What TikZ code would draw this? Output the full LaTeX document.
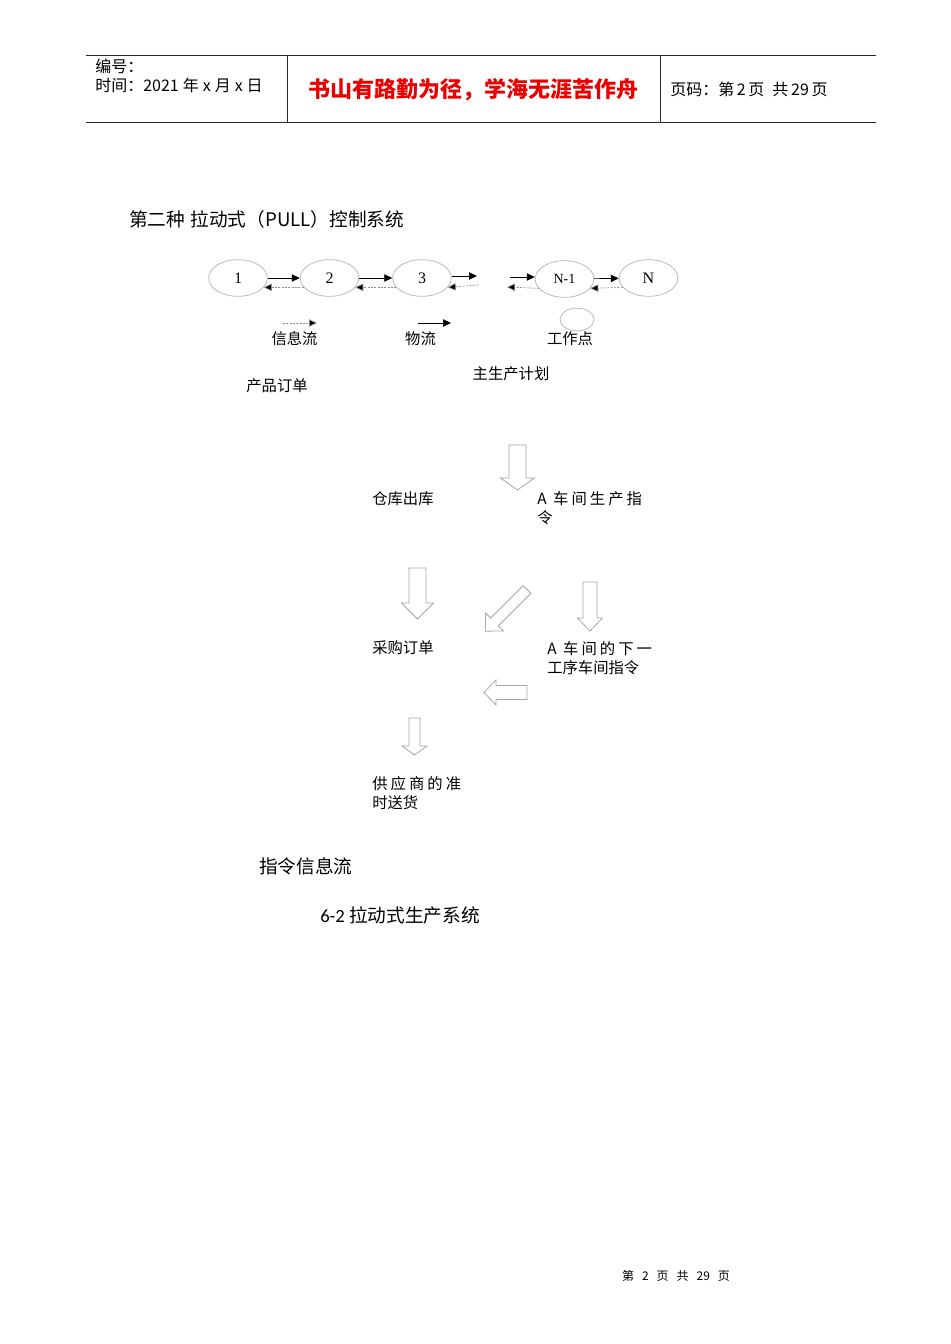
\documentclass[tikz,border=0pt]{standalone}
\usepackage{fontspec}
\setmainfont{Liberation Serif}
\newfontfamily\cjk{Noto Sans CJK SC}
\newfontfamily\cjkwide[LetterSpace=20]{Noto Sans CJK SC}
\newfontfamily\capfont{Carlito}
\usetikzlibrary{arrows.meta}
\usetikzlibrary{shapes.geometric}

\definecolor{rimgray}{RGB}{185,185,185}
\definecolor{arrowgray}{RGB}{165,165,165}
\definecolor{mottored}{RGB}{235,0,0}

\tikzset{
	rule/.style={line width=0.7pt, draw=black!85},
	station/.style={ellipse, draw=rimgray, line width=0.6pt, minimum width=44pt, minimum height=27.5pt, inner sep=0pt, font=\fontsize{12}{12}\selectfont},
	goods/.style={line width=0.5pt, -{Triangle[length=6pt,width=5.5pt]}},
	info/.style={line width=0.5pt, draw=black!45, dash pattern=on 1.5pt off 1pt, -{Triangle[length=6pt,width=5.5pt,fill=black]}},
	label/.style={inner sep=0pt, font=\cjk\fontsize{11.5}{14.5}\selectfont},
	head/.style={inner sep=0pt, anchor=west, font=\cjk\fontsize{12}{14}\selectfont},
	big/.style={inner sep=0pt, anchor=west, font=\cjk\fontsize{14}{16}\selectfont},
	blockline/.style={draw=arrowgray, line width=0.6pt, line join=miter}
}

% hollow block arrow: x, y of tail, turn, half shaft, half head, shaft length, total length
\newcommand{\fatarrow}[7]{%
	\draw[blockline, shift={(#1,#2)}, rotate=#3] (-#4,0) -- (#4,0) -- (#4,#6) -- (#5,#6) -- (0,#7) -- (-#5,#6) -- (-#4,#6) -- cycle;}

\begin{document}
\begin{tikzpicture}[x=0.75pt, y=-0.75pt]
	\useasboundingbox (0,0) rectangle (950,1344);

	% Page header
	\draw[rule] (86,55) -- (876,55);
	\draw[rule] (86,122) -- (876,122);
	\draw[rule] (287,55) -- (287,122);
	\draw[rule] (660,55) -- (660,122);
	\node[head] (serial) at (95,66) {编号：};
	\node[head] (date)   at (95,85) {时间：2021\hspace{3pt}年\hspace{3pt}x\hspace{3pt}月\hspace{3pt}x\hspace{3pt}日};
	\node[inner sep=0pt, text=mottored, font=\cjk\bfseries\fontsize{16.5}{18}\selectfont] (motto) at (473,90) {书山有路勤为径，学海无涯苦作舟};
	\node[head] (pageno) at (670,89) {页码：第\hspace{2pt}2\hspace{2pt}页\hspace{6pt}共\hspace{2pt}29\hspace{2pt}页};

	% Title
	\node[big] (heading) at (129,219) {第二种\hspace{4pt}拉动式（PULL）控制系统};

	% Chain of work points
	\node[station] (s1)  at (238,278)   {1};
	\node[station] (s2)  at (329.5,278) {2};
	\node[station] (s3)  at (422,278)   {3};
	\node[station, font=\fontsize{10.5}{10.5}\selectfont] (sn1) at (564.5,279) {N-1};
	\node[station] (sn)  at (648.5,278) {N};

	% Open ends of the chain
	\coordinate (gapA) at (477,276);
	\coordinate (gapB) at (478,285);
	\coordinate (gapC) at (510,277);
	\coordinate (gapD) at (507,287);

	% Material and information between stations
	\draw[goods] (s1) -- (s2);
	\draw[info]  (s2.200) -- (s1.-20);
	\draw[goods] (s2) -- (s3);
	\draw[info]  (s3.200) -- (s2.-20);
	\draw[goods] (s3.east |- gapA) -- (gapA);
	\draw[info]  (gapB) -- (s3.-20);
	\draw[goods] (gapC) -- (sn1.west |- gapC);
	\draw[info]  (sn1.200) -- (gapD);
	\draw[goods] (sn1) -- (sn);
	\draw[info]  (sn.200) -- (sn1.-20);

	% Legend
	\coordinate (infoA)  at (283,323);
	\coordinate (infoB)  at (317,323);
	\coordinate (goodsA) at (418,323);
	\coordinate (goodsB) at (451,323);
	\draw[info]  (infoA) -- (infoB);
	\draw[goods] (goodsA) -- (goodsB);
	\node[ellipse, draw=rimgray, line width=0.6pt, minimum width=25.5pt, minimum height=17pt, inner sep=0pt] (spot) at (577,319.5) {};
	\node[label] (infolbl)  at (294.5,339) {信息流};
	\node[label] (goodslbl) at (420.5,339) {物流};
	\node[label] (spotlbl)  at (570,339)   {工作点};
	\node[label] (orderlbl) at (277,386)   {产品订单};
	\node[label] (planlbl)  at (511,374)   {主生产计划};

	% Hollow arrows of the order flow
	\fatarrow{517.5}{445}{0}{8.5}{17}{33}{45}
	\fatarrow{417.5}{568}{0}{8.5}{16}{35}{51}
	\fatarrow{527}{589.5}{-45}{5.5}{12.5}{46}{59}
	\fatarrow{590}{582}{0}{7}{12.5}{36}{49}
	\fatarrow{527}{692.5}{-90}{7}{12.5}{31}{43}
	\fatarrow{414.5}{718}{0}{5.5}{12.5}{28}{37}

	% Order flow labels
	\node[label, anchor=west] (stock)    at (372,499) {仓库出库};
	\node[label, anchor=west, align=left] (shopA) at (537,508.5) {{\cjkwide A 车间生产指}\\令};
	\node[label, anchor=west] (purchase) at (372,648) {采购订单};
	\node[label, anchor=west, align=left] (shopnext) at (547,658) {{\cjkwide A 车间的下一}\\工序车间指令};
	\node[label, anchor=west, align=left] (supply) at (372,793) {{\cjkwide 供应商的准}\\时送货};

	% Captions
	\node[big] (cmdflow) at (259,866) {指令信息流};
	\node[big] (caption) at (320,915) {{\capfont 6-2} 拉动式生产系统};

	% Page footer
	\node[inner sep=0pt, font=\cjk\fontsize{9}{11}\selectfont] (footer) at (676,1276) {第\hspace{6pt}2\hspace{6pt}页\hspace{6pt}共\hspace{6pt}29\hspace{6pt}页};
\end{tikzpicture}
\end{document}
